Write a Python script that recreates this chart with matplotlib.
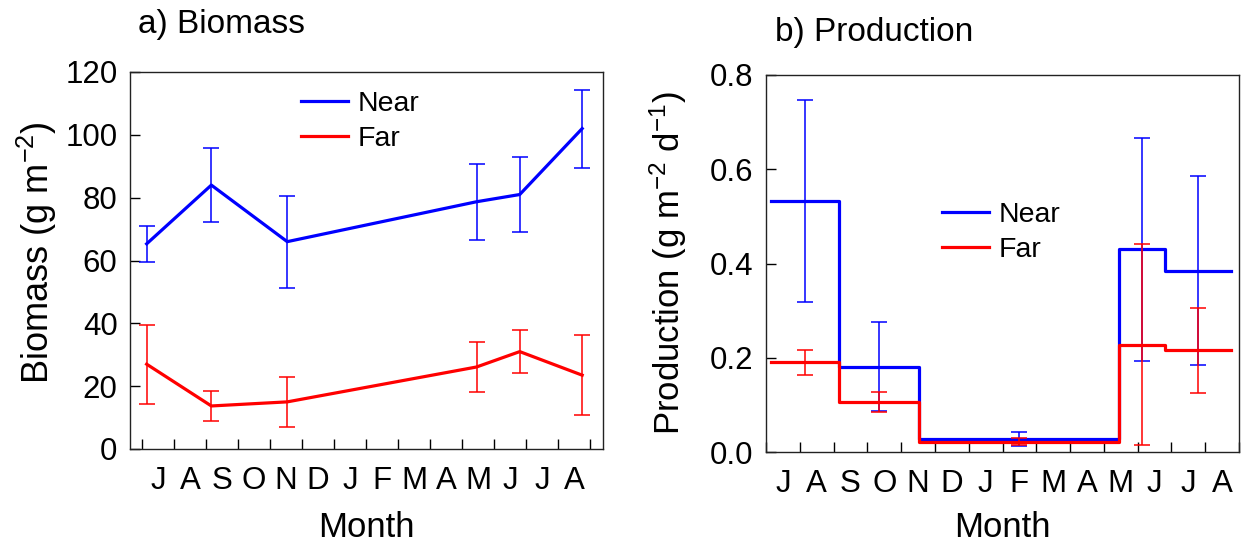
import numpy as np
import matplotlib
matplotlib.use('Agg')
import matplotlib.pyplot as plt
from matplotlib.ticker import FixedLocator, FixedFormatter, FormatStrFormatter

plt.rcParams['font.family'] = ['Liberation Sans', 'DejaVu Sans']
plt.rcParams['mathtext.fontset'] = 'custom'
plt.rcParams['mathtext.rm'] = 'Liberation Sans'
plt.rcParams['mathtext.it'] = 'Liberation Sans:italic'
plt.rcParams['font.size'] = 20

# sampling dates, in months since 1 July
sample_months = [0.15, 2.17, 4.54, 10.45, 11.8, 13.75]
month_labels = ['J', 'A', 'S', 'O', 'N', 'D', 'J', 'F', 'M', 'A', 'M', 'J', 'J', 'A']

# biomass (g m-2) at each sampling date
biomass_near = [65.3, 84.0, 66.0, 78.7, 81.0, 102.0]
biomass_near_sd = [5.7, 11.7, 14.6, 12.1, 12.0, 12.4]
biomass_far = [27.0, 13.7, 15.0, 26.1, 31.0, 23.5]
biomass_far_sd = [12.6, 4.7, 7.9, 8.1, 6.9, 12.7]

# production (g m-2 d-1) between sampling dates
prod_near = [0.533, 0.181, 0.027, 0.430, 0.385]
prod_near_sd = [0.215, 0.095, 0.015, 0.236, 0.200]
prod_far = [0.190, 0.106, 0.022, 0.228, 0.216]
prod_far_sd = [0.027, 0.022, 0.007, 0.214, 0.090]

BLUE = '#0000FF'
RED = '#FF0000'

W, H = 1246, 552
fig = plt.figure(figsize=(W / 100, H / 100), dpi=100)
ax1 = fig.add_axes([130 / W, (H - 449) / H, 473 / W, 377 / H])
ax2 = fig.add_axes([766 / W, (H - 452) / H, 473 / W, 377 / H])


def month_axis(ax, lo, hi):
    ax.set_xlim(lo, hi)
    ax.xaxis.set_major_locator(FixedLocator(np.arange(0, 15)))
    ax.xaxis.set_major_formatter(FixedFormatter([''] * 15))
    ax.xaxis.set_minor_locator(FixedLocator(np.arange(14) + 0.5))
    ax.xaxis.set_minor_formatter(FixedFormatter(month_labels))
    ax.tick_params(axis='x', which='minor', length=0, pad=12, labelsize=22.5)
    ax.tick_params(axis='x', which='major', direction='in', length=7, width=1)
    ax.tick_params(axis='y', direction='in', length=7, width=1, pad=9, labelsize=22.5)
    for s in ax.spines.values():
        s.set_linewidth(1.0)
        s.set_color('#222222')


# a) biomass
ax1.errorbar(sample_months, biomass_near, yerr=biomass_near_sd, color=BLUE, lw=2.3,
             elinewidth=1.1, capsize=6, capthick=1.1, label='Near')
ax1.errorbar(sample_months, biomass_far, yerr=biomass_far_sd, color=RED, lw=2.3,
             elinewidth=1.1, capsize=6, capthick=1.1, label='Far')
month_axis(ax1, -0.37, 14.4)
ax1.set_ylim(0, 120)
ax1.set_yticks(np.arange(0, 121, 20))
ax1.set_xlabel('Month', fontsize=25)
ax1.xaxis.set_label_coords(0.5, -0.164)
ax1.set_ylabel('Biomass (g m$^{-2}$)', fontsize=26)
ax1.yaxis.set_label_coords(-0.15, 0.52)
h, l = ax1.get_legend_handles_labels()
h = [x[0] for x in h]
ax1.legend(h, l, loc='upper left', bbox_to_anchor=(0.3615, 0.95), frameon=False,
           borderpad=0, borderaxespad=0, handlelength=1.65, handletextpad=0.35,
           labelspacing=0.33, fontsize=20.5)

# b) production, step between sampling dates, error bar at interval midpoint
mids = [(a + b) / 2 for a, b in zip(sample_months[:-1], sample_months[1:])]
ax2.step(sample_months, prod_near + prod_near[-1:], where='post', color=BLUE, lw=2.3, label='Near')
ax2.errorbar(mids, prod_near, yerr=prod_near_sd, fmt='none', ecolor=BLUE,
             elinewidth=1.1, capsize=6, capthick=1.1)
ax2.step(sample_months, prod_far + prod_far[-1:], where='post', color=RED, lw=2.3, label='Far')
ax2.errorbar(mids, prod_far, yerr=prod_far_sd, fmt='none', ecolor=RED,
             elinewidth=1.1, capsize=6, capthick=1.1)
month_axis(ax2, 0, 14)
ax2.set_ylim(0, 0.8)
ax2.set_yticks(np.arange(0, 0.81, 0.2))
ax2.yaxis.set_major_formatter(FormatStrFormatter('%.1f'))
ax2.set_xlabel('Month', fontsize=25)
ax2.xaxis.set_label_coords(0.5, -0.156)
ax2.set_ylabel('Production (g m$^{-2}$ d$^{-1}$)', fontsize=25)
ax2.yaxis.set_label_coords(-0.163, 0.5)
ax2.legend(loc='upper left', bbox_to_anchor=(0.372, 0.663), frameon=False,
           borderpad=0, borderaxespad=0, handlelength=1.65, handletextpad=0.35,
           labelspacing=0.33, fontsize=20.5)

fig.text(138 / W, 1 - 33 / H, 'a) Biomass', fontsize=24, va='baseline', ha='left')
fig.text(775 / W, 1 - 41 / H, 'b) Production', fontsize=24, va='baseline', ha='left')

plt.savefig('out.png', dpi=100)
